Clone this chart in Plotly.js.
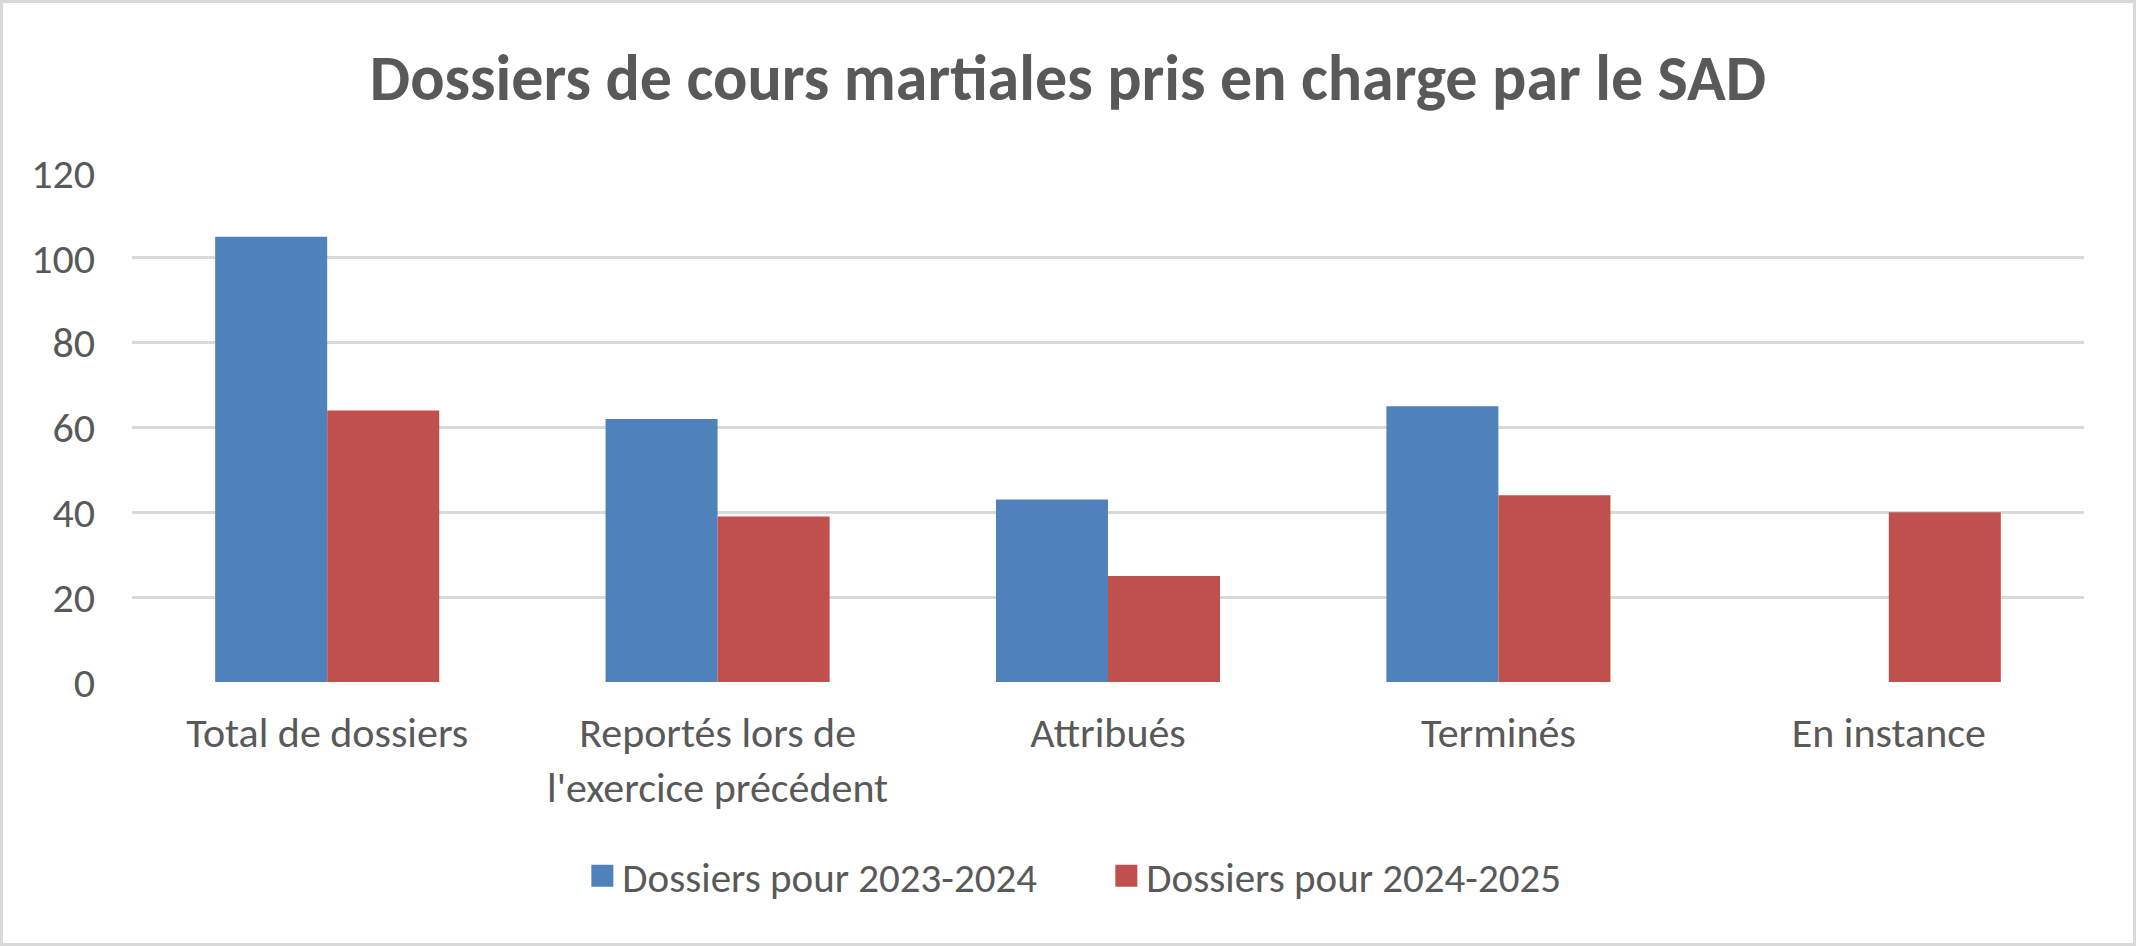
<!DOCTYPE html>
<html>
<head>
<meta charset="utf-8">
<script src="https://cdn.plot.ly/plotly-3.0.1.min.js"></script>
<style>
  html, body { margin: 0; padding: 0; background: #ffffff; }
  #chart { width: 2130px; height: 940px; border: 3px solid #d9d9d9; }
</style>
</head>
<body>
<div id="chart"></div>
<script>
const categories = [
  "Total de dossiers",
  "Reportés lors de<br>l'exercice précédent",
  "Attribués",
  "Terminés",
  "En instance"
];
const series2023 = [105, 62, 43, 65, null];
const series2024 = [64, 39, 25, 44, 40];
const seriesNames = ["Dossiers pour 2023-2024", "Dossiers pour 2024-2025"];
const yTicks = [0, 20, 40, 60, 80, 100, 120];
const chartTitle = "Dossiers de cours martiales pris en charge par le SAD";

const FONT = "Carlito, Calibri, Lato, sans-serif";
const TEXT = "#595959";

const traces = [
  { type: "bar", name: seriesNames[0], x: categories, y: series2023,
    marker: { color: "#4f81bd", line: { width: 0 } } },
  { type: "bar", name: seriesNames[1], x: categories, y: series2024,
    marker: { color: "#c0504d", line: { width: 0 } } }
];

const layout = {
  width: 2130, height: 940,
  paper_bgcolor: "#ffffff", plot_bgcolor: "#ffffff",
  margin: { l: 129, r: 49, t: 170, b: 261, pad: 0 },
  font: { family: FONT, color: TEXT, size: 42 },
  title: { text: chartTitle, font: { family: FONT, size: 64, color: TEXT, weight: "bold" },
           x: 0.5, xref: "container", xanchor: "center", y: 1 - 75 / 940, yref: "container", yanchor: "middle" },
  barmode: "group",
  bargap: 0.426,
  bargroupgap: 0,
  xaxis: { type: "category", showgrid: false, showline: false, zeroline: false, ticks: "",
           tickfont: { family: FONT, size: 42, color: TEXT }, ticklabelstandoff: 22 },
  yaxis: { range: [0, 120], tickvals: yTicks, showgrid: true, gridcolor: "#d9d9d9", gridwidth: 3,
           zeroline: false, showline: false, ticks: "", ticklabelstandoff: 36,
           tickfont: { family: FONT, size: 42, color: TEXT } },
  showlegend: true,
  legend: { orientation: "h", xref: "container", x: 0.518, xanchor: "center",
            yref: "container", y: 1 - 873 / 940, yanchor: "middle",
            font: { family: FONT, size: 41, color: TEXT }, itemwidth: 30,
            entrywidth: 479, entrywidthmode: "pixels",
            traceorder: "normal" }
};

Plotly.newPlot("chart", traces, layout, { displayModeBar: false, staticPlot: true }).then(function () {
  document.querySelectorAll("#chart .legendpoints path").forEach(function (p) {
    p.setAttribute("d", "M11,11H-11V-11H11Z");
  });
});
</script>
</body>
</html>
